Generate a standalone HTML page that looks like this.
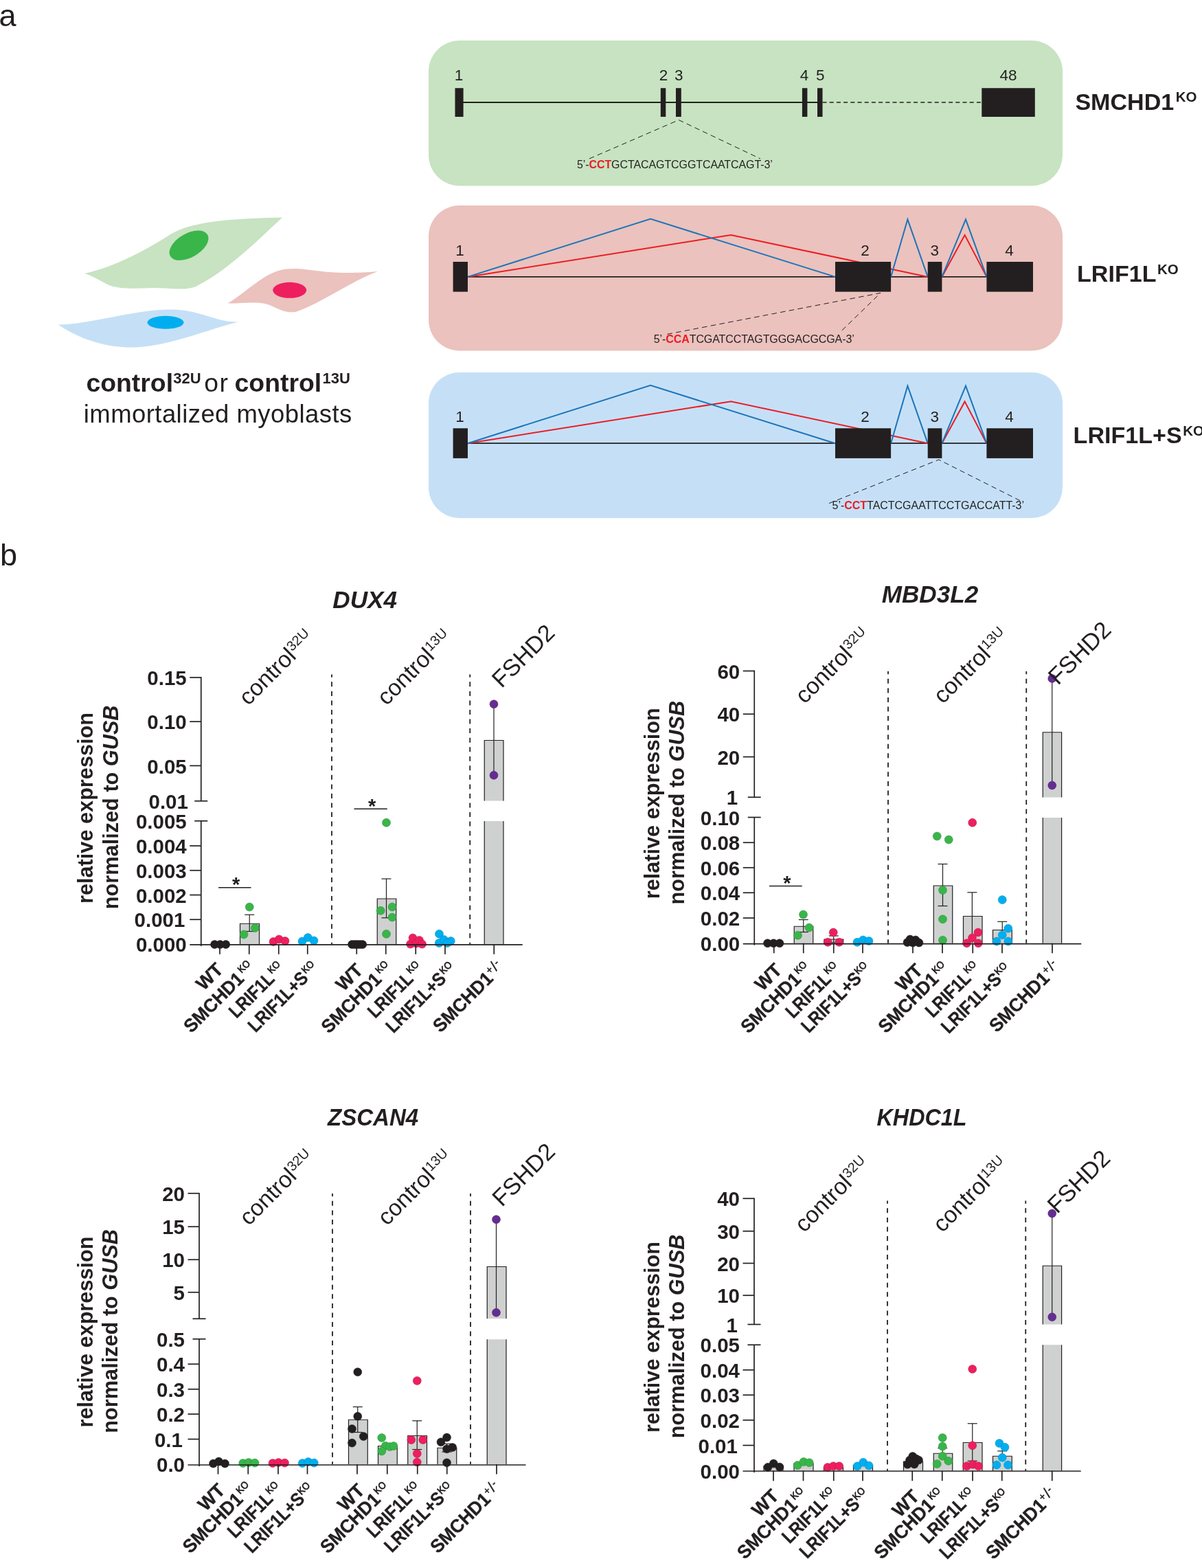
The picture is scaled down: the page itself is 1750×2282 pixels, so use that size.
<!DOCTYPE html>
<html lang="en"><head><meta charset="utf-8"><title>Figure</title>
<style>html,body{margin:0;padding:0;background:#fff}body{width:1750px;height:2282px;overflow:hidden}svg{display:block}svg text{font-family:"Liberation Sans",Arial,Helvetica,sans-serif}</style>
</head><body>
<svg width="1750" height="2282" viewBox="0 0 1750 2282">
<rect width="1750" height="2282" fill="#ffffff"/>
<g id="panel-a">
<text x="-1.5" y="37.5" font-size="45" font-weight="normal" font-style="normal" text-anchor="start" fill="#231f20" >a</text>
<path d="M123,398 C170,388 215,362 250,340 C285,320 350,318 411,316.5 C375,350 330,395 285,417 C268,424 245,418.5 222,419 C200,420 175,421 160,415.5 C147,410 135,401 123,398 Z" fill="#c7e3c1"/>
<ellipse cx="275" cy="357.2" rx="31.3" ry="17.3" transform="rotate(-30 275 357.2)" fill="#39b54a"/>
<path d="M331.5,441.5 C360,425 385,395 417,391.5 C450,388 470,402 550,395 C510,410 470,440 432,453.5 C410,458 400,443 380,441 C360,439.5 345,442 331.5,441.5 Z" fill="#ebc2bd"/>
<ellipse cx="421.7" cy="422.3" rx="24.5" ry="11.5" fill="#ed1f5f"/>
<path d="M85,472.5 C130,472 190,452 243,450.5 C290,449 315,470 347,468.5 C300,480 250,503 197,505.5 C150,507 110,490 85,472.5 Z" fill="#c5e0f6"/>
<ellipse cx="241" cy="469.3" rx="26.5" ry="9.5" fill="#00aeef"/>
<text y="570" font-size="37.4" fill="#231f20"><tspan x="125.4" font-weight="bold">control</tspan><tspan x="252.3" font-weight="bold" font-size="22" dy="-12.5">32U</tspan><tspan x="297.2" dy="12.5" font-size="37.4" letter-spacing="1.6">or</tspan><tspan x="341.5" font-weight="bold">control</tspan><tspan x="469.5" font-weight="bold" font-size="22" dy="-12.5">13U</tspan></text>
<text x="121.75" y="615" font-size="36.5" font-weight="normal" font-style="normal" text-anchor="start" fill="#231f20" textLength="390.5" lengthAdjust="spacing">immortalized myoblasts</text>
<rect x="624" y="59" width="923" height="211.5" fill="#c7e3c1" rx="45" ry="45"/>
<rect x="624" y="299" width="923" height="211.5" fill="#ebc2bd" rx="45" ry="45"/>
<rect x="624" y="542" width="923" height="212" fill="#c5e0f6" rx="45" ry="45"/>
<line x1="670" y1="149" x2="1194" y2="149" stroke="#231f20" stroke-width="1.8" />
<line x1="1197.5" y1="149" x2="1430" y2="149" stroke="#231f20" stroke-width="1.6" stroke-dasharray="6 4.2"/>
<rect x="662.5" y="128.2" width="12.1" height="41.8" fill="#231f20" />
<rect x="961.8" y="128.2" width="7.5" height="41.8" fill="#231f20" />
<rect x="984" y="128.2" width="7.8" height="41.8" fill="#231f20" />
<rect x="1167.9" y="128.2" width="7.5" height="41.8" fill="#231f20" />
<rect x="1190" y="128.2" width="7.5" height="41.8" fill="#231f20" />
<rect x="1429.3" y="128.2" width="77.5" height="41.8" fill="#231f20" />
<text x="667.9" y="116.8" font-size="22.5" font-weight="normal" font-style="normal" text-anchor="middle" fill="#231f20" >1</text>
<text x="966" y="116.8" font-size="22.5" font-weight="normal" font-style="normal" text-anchor="middle" fill="#231f20" >2</text>
<text x="988.2" y="116.8" font-size="22.5" font-weight="normal" font-style="normal" text-anchor="middle" fill="#231f20" >3</text>
<text x="1171" y="116.8" font-size="22.5" font-weight="normal" font-style="normal" text-anchor="middle" fill="#231f20" >4</text>
<text x="1194.3" y="116.8" font-size="22.5" font-weight="normal" font-style="normal" text-anchor="middle" fill="#231f20" >5</text>
<text x="1467.9" y="116.8" font-size="22.5" font-weight="normal" font-style="normal" text-anchor="middle" fill="#231f20" >48</text>
<polyline points="857.9,231 988.2,174.6 1107,231" fill="none" stroke="#231f20" stroke-width="1" stroke-dasharray="7.6 5.3"/>
<text x="840" y="245" font-size="16" fill="#231f20" textLength="284.8" lengthAdjust="spacing">5’-<tspan font-weight="bold" fill="#ed1c24">CCT</tspan>GCTACAGTCGGTCAATCAGT-3’</text>
<text x="1565.4" y="159.6" font-size="34.1" font-weight="bold" fill="#231f20">SMCHD1<tspan font-size="20.5" dy="-11.5" dx="2.5">KO</tspan></text>
<line x1="681" y1="402.9" x2="1436.4" y2="402.9" stroke="#231f20" stroke-width="1.8" />
<polyline points="681,402.9 1064.3,341.9 1350.7,402.9" fill="none" stroke="#ed1c24" stroke-width="2" stroke-linejoin="miter"/>
<polyline points="1371.4,402.9 1404.6,342.1 1436.4,402.9" fill="none" stroke="#ed1c24" stroke-width="2"/>
<polyline points="681,402.9 947.1,318.6 1216,402.9" fill="none" stroke="#1c75bc" stroke-width="2"/>
<polyline points="1297.1,402.9 1321.4,319.3 1350.7,402.9" fill="none" stroke="#1c75bc" stroke-width="2"/>
<polyline points="1371.4,402.9 1406,319.3 1436.4,402.9" fill="none" stroke="#1c75bc" stroke-width="2"/>
<rect x="659.6" y="381" width="21.4" height="43.6" fill="#231f20" />
<rect x="1216" y="381" width="81.1" height="43.6" fill="#231f20" />
<rect x="1350.7" y="381" width="20.7" height="43.6" fill="#231f20" />
<rect x="1436.4" y="381" width="67.6" height="43.6" fill="#231f20" />
<text x="669.6" y="372" font-size="22.5" font-weight="normal" font-style="normal" text-anchor="middle" fill="#231f20" >1</text>
<text x="1259.6" y="372" font-size="22.5" font-weight="normal" font-style="normal" text-anchor="middle" fill="#231f20" >2</text>
<text x="1360.7" y="372" font-size="22.5" font-weight="normal" font-style="normal" text-anchor="middle" fill="#231f20" >3</text>
<text x="1469.6" y="372" font-size="22.5" font-weight="normal" font-style="normal" text-anchor="middle" fill="#231f20" >4</text>
<polyline points="971.4,486.4 1282,426.4 1223,483.6" fill="none" stroke="#231f20" stroke-width="1" stroke-dasharray="7.6 5.3"/>
<text x="951.8" y="498.6" font-size="16" fill="#231f20" textLength="292" lengthAdjust="spacing">5’-<tspan font-weight="bold" fill="#ed1c24">CCA</tspan>TCGATCCTAGTGGGACGCGA-3’</text>
<text x="1568" y="410.4" font-size="34.1" font-weight="bold" fill="#231f20">LRIF1L<tspan font-size="20.5" dy="-11.5" dx="1.5">KO</tspan></text>
<line x1="681" y1="645.2" x2="1436.4" y2="645.2" stroke="#231f20" stroke-width="1.8" />
<polyline points="681,645.2 1064.3,584.2 1350.7,645.2" fill="none" stroke="#ed1c24" stroke-width="2" stroke-linejoin="miter"/>
<polyline points="1371.4,645.2 1404.6,584.4 1436.4,645.2" fill="none" stroke="#ed1c24" stroke-width="2"/>
<polyline points="681,645.2 947.1,560.9 1216,645.2" fill="none" stroke="#1c75bc" stroke-width="2"/>
<polyline points="1297.1,645.2 1321.4,561.6 1350.7,645.2" fill="none" stroke="#1c75bc" stroke-width="2"/>
<polyline points="1371.4,645.2 1406,561.6 1436.4,645.2" fill="none" stroke="#1c75bc" stroke-width="2"/>
<rect x="659.6" y="623.3" width="21.4" height="43.6" fill="#231f20" />
<rect x="1216" y="623.3" width="81.1" height="43.6" fill="#231f20" />
<rect x="1350.7" y="623.3" width="20.7" height="43.6" fill="#231f20" />
<rect x="1436.4" y="623.3" width="67.6" height="43.6" fill="#231f20" />
<text x="669.6" y="614.3" font-size="22.5" font-weight="normal" font-style="normal" text-anchor="middle" fill="#231f20" >1</text>
<text x="1259.6" y="614.3" font-size="22.5" font-weight="normal" font-style="normal" text-anchor="middle" fill="#231f20" >2</text>
<text x="1360.7" y="614.3" font-size="22.5" font-weight="normal" font-style="normal" text-anchor="middle" fill="#231f20" >3</text>
<text x="1469.6" y="614.3" font-size="22.5" font-weight="normal" font-style="normal" text-anchor="middle" fill="#231f20" >4</text>
<polyline points="1207,732.5 1366.8,669 1489.3,730.7" fill="none" stroke="#231f20" stroke-width="1" stroke-dasharray="7.6 5.3"/>
<text x="1211.5" y="740.7" font-size="16" fill="#231f20" textLength="279.5" lengthAdjust="spacing">5’-<tspan font-weight="bold" fill="#ed1c24">CCT</tspan>TACTCGAATTCCTGACCATT-3’</text>
<text x="1562.6" y="645" font-size="34.1" font-weight="bold" fill="#231f20">LRIF1L+S<tspan font-size="20.5" dy="-11.5" dx="1.5">KO</tspan></text>
</g>
<g id="panel-b">
<text x="0" y="823" font-size="45" font-weight="normal" font-style="normal" text-anchor="start" fill="#231f20" >b</text>
<g id="chart-DUX4">
<text x="484.25" y="885" font-size="35.6" font-weight="bold" font-style="italic" text-anchor="start" fill="#231f20" textLength="93.75" lengthAdjust="spacingAndGlyphs">DUX4</text>
<line x1="483" y1="981.6" x2="483" y2="1374.25" stroke="#231f20" stroke-width="1.8" stroke-dasharray="7 6.55" stroke-dashoffset="2.8"/>
<line x1="684.25" y1="981.6" x2="684.25" y2="1374.25" stroke="#231f20" stroke-width="1.8" stroke-dasharray="7 6.55" stroke-dashoffset="2.8"/>
<path d="M349.5,1374.25 V1344.25 H377.5 V1374.25" fill="#cfd1d0" stroke="#231f20" stroke-width="1.2"/>
<path d="M549.25,1374.25 V1308 H576.75 V1374.25" fill="#cfd1d0" stroke="#231f20" stroke-width="1.2"/>
<path d="M705.25,1165.5 V1077.5 H733 V1165.5" fill="#cfd1d0" stroke="#231f20" stroke-width="1.2"/>
<rect x="705.25" y="1195" width="27.75" height="179.25" fill="#cfd1d0" />
<line x1="705.25" y1="1195" x2="705.25" y2="1374.25" stroke="#231f20" stroke-width="1.2" />
<line x1="733" y1="1195" x2="733" y2="1374.25" stroke="#231f20" stroke-width="1.2" />
<line x1="363.25" y1="1331.25" x2="363.25" y2="1355.5" stroke="#231f20" stroke-width="1.2" />
<line x1="356.25" y1="1331.25" x2="370.25" y2="1331.25" stroke="#231f20" stroke-width="1.2" />
<line x1="356.25" y1="1355.5" x2="370.25" y2="1355.5" stroke="#231f20" stroke-width="1.2" />
<line x1="562.5" y1="1279" x2="562.5" y2="1335.75" stroke="#231f20" stroke-width="1.2" />
<line x1="555.5" y1="1279" x2="569.5" y2="1279" stroke="#231f20" stroke-width="1.2" />
<line x1="555.5" y1="1335.75" x2="569.5" y2="1335.75" stroke="#231f20" stroke-width="1.2" />
<line x1="719" y1="1024.75" x2="719" y2="1128.25" stroke="#231f20" stroke-width="1.2" />
<circle cx="312.5" cy="1374.5" r="6.0" fill="#231f20" stroke="#231f20" stroke-width="0.5"/>
<circle cx="320.5" cy="1374.5" r="6.0" fill="#231f20" stroke="#231f20" stroke-width="0.5"/>
<circle cx="328.75" cy="1374.5" r="6.0" fill="#231f20" stroke="#231f20" stroke-width="0.5"/>
<circle cx="363.25" cy="1320" r="6.0" fill="#39b54a" stroke="#2a8c3a" stroke-width="0.5"/>
<circle cx="371.25" cy="1350.5" r="6.0" fill="#39b54a" stroke="#2a8c3a" stroke-width="0.5"/>
<circle cx="355" cy="1360" r="6.0" fill="#39b54a" stroke="#2a8c3a" stroke-width="0.5"/>
<circle cx="398" cy="1370.5" r="6.0" fill="#ed1f5f" stroke="#b8174a" stroke-width="0.5"/>
<circle cx="406.25" cy="1367" r="6.0" fill="#ed1f5f" stroke="#b8174a" stroke-width="0.5"/>
<circle cx="415" cy="1369.5" r="6.0" fill="#ed1f5f" stroke="#b8174a" stroke-width="0.5"/>
<circle cx="440" cy="1370" r="6.0" fill="#00aeef" stroke="#0089bd" stroke-width="0.5"/>
<circle cx="448.25" cy="1364.5" r="6.0" fill="#00aeef" stroke="#0089bd" stroke-width="0.5"/>
<circle cx="457" cy="1369" r="6.0" fill="#00aeef" stroke="#0089bd" stroke-width="0.5"/>
<circle cx="512.5" cy="1374.5" r="6.0" fill="#231f20" stroke="#231f20" stroke-width="0.5"/>
<circle cx="516.5" cy="1374.5" r="6.0" fill="#231f20" stroke="#231f20" stroke-width="0.5"/>
<circle cx="520" cy="1374.5" r="6.0" fill="#231f20" stroke="#231f20" stroke-width="0.5"/>
<circle cx="524" cy="1374.5" r="6.0" fill="#231f20" stroke="#231f20" stroke-width="0.5"/>
<circle cx="527.8" cy="1374.5" r="6.0" fill="#231f20" stroke="#231f20" stroke-width="0.5"/>
<circle cx="562.5" cy="1197.25" r="6.0" fill="#39b54a" stroke="#2a8c3a" stroke-width="0.5"/>
<circle cx="571" cy="1320" r="6.0" fill="#39b54a" stroke="#2a8c3a" stroke-width="0.5"/>
<circle cx="554.25" cy="1325.25" r="6.0" fill="#39b54a" stroke="#2a8c3a" stroke-width="0.5"/>
<circle cx="571" cy="1335" r="6.0" fill="#39b54a" stroke="#2a8c3a" stroke-width="0.5"/>
<circle cx="562.5" cy="1359.25" r="6.0" fill="#39b54a" stroke="#2a8c3a" stroke-width="0.5"/>
<circle cx="597.5" cy="1374" r="6.0" fill="#ed1f5f" stroke="#b8174a" stroke-width="0.5"/>
<circle cx="601" cy="1365" r="6.0" fill="#ed1f5f" stroke="#b8174a" stroke-width="0.5"/>
<circle cx="606" cy="1373" r="6.0" fill="#ed1f5f" stroke="#b8174a" stroke-width="0.5"/>
<circle cx="610.5" cy="1368.5" r="6.0" fill="#ed1f5f" stroke="#b8174a" stroke-width="0.5"/>
<circle cx="614.5" cy="1374" r="6.0" fill="#ed1f5f" stroke="#b8174a" stroke-width="0.5"/>
<circle cx="639.5" cy="1359.25" r="6.0" fill="#00aeef" stroke="#0089bd" stroke-width="0.5"/>
<circle cx="639.25" cy="1372.5" r="6.0" fill="#00aeef" stroke="#0089bd" stroke-width="0.5"/>
<circle cx="646.25" cy="1367.5" r="6.0" fill="#00aeef" stroke="#0089bd" stroke-width="0.5"/>
<circle cx="656.25" cy="1369.5" r="6.0" fill="#00aeef" stroke="#0089bd" stroke-width="0.5"/>
<circle cx="651.25" cy="1372.5" r="6.0" fill="#00aeef" stroke="#0089bd" stroke-width="0.5"/>
<circle cx="719" cy="1024.75" r="6.0" fill="#662d91" stroke="#4d2170" stroke-width="0.5"/>
<circle cx="719" cy="1128.25" r="6.0" fill="#662d91" stroke="#4d2170" stroke-width="0.5"/>
<line x1="292.75" y1="985.15" x2="292.75" y2="1165.75" stroke="#231f20" stroke-width="1.7" />
<line x1="292.75" y1="1194.75" x2="292.75" y2="1376.95" stroke="#231f20" stroke-width="1.7" />
<line x1="283.25" y1="1165.75" x2="302.25" y2="1165.75" stroke="#231f20" stroke-width="1.7" />
<line x1="283.25" y1="1194.75" x2="302.25" y2="1194.75" stroke="#231f20" stroke-width="1.7" />
<line x1="276.25" y1="1374.95" x2="760.75" y2="1374.95" stroke="#231f20" stroke-width="1.7" />
<line x1="276.25" y1="986" x2="292.75" y2="986" stroke="#231f20" stroke-width="1.7" />
<text x="271.75" y="997.1" font-size="29.5" font-weight="bold" font-style="normal" text-anchor="end" fill="#231f20" >0.15</text>
<line x1="276.25" y1="1050.2" x2="292.75" y2="1050.2" stroke="#231f20" stroke-width="1.7" />
<text x="271.75" y="1061.3" font-size="29.5" font-weight="bold" font-style="normal" text-anchor="end" fill="#231f20" >0.10</text>
<line x1="276.25" y1="1114.4" x2="292.75" y2="1114.4" stroke="#231f20" stroke-width="1.7" />
<text x="271.75" y="1125.5" font-size="29.5" font-weight="bold" font-style="normal" text-anchor="end" fill="#231f20" >0.05</text>
<text x="273.95" y="1176.85" font-size="29.5" font-weight="bold" font-style="normal" text-anchor="end" fill="#231f20" >0.01</text>
<text x="271.75" y="1205.85" font-size="29.5" font-weight="bold" font-style="normal" text-anchor="end" fill="#231f20" >0.005</text>
<line x1="276.25" y1="1231" x2="292.75" y2="1231" stroke="#231f20" stroke-width="1.7" />
<text x="271.75" y="1242.1" font-size="29.5" font-weight="bold" font-style="normal" text-anchor="end" fill="#231f20" >0.004</text>
<line x1="276.25" y1="1266.75" x2="292.75" y2="1266.75" stroke="#231f20" stroke-width="1.7" />
<text x="271.75" y="1277.85" font-size="29.5" font-weight="bold" font-style="normal" text-anchor="end" fill="#231f20" >0.003</text>
<line x1="276.25" y1="1302.5" x2="292.75" y2="1302.5" stroke="#231f20" stroke-width="1.7" />
<text x="271.75" y="1313.6" font-size="29.5" font-weight="bold" font-style="normal" text-anchor="end" fill="#231f20" >0.002</text>
<line x1="276.25" y1="1338.25" x2="292.75" y2="1338.25" stroke="#231f20" stroke-width="1.7" />
<text x="269.45" y="1349.35" font-size="29.5" font-weight="bold" font-style="normal" text-anchor="end" fill="#231f20" >0.001</text>
<text x="271.75" y="1385.35" font-size="29.5" font-weight="bold" font-style="normal" text-anchor="end" fill="#231f20" >0.000</text>
<line x1="320" y1="1374.25" x2="320" y2="1388.75" stroke="#231f20" stroke-width="1.7" />
<line x1="362.75" y1="1374.25" x2="362.75" y2="1388.75" stroke="#231f20" stroke-width="1.7" />
<line x1="405.75" y1="1374.25" x2="405.75" y2="1388.75" stroke="#231f20" stroke-width="1.7" />
<line x1="447.75" y1="1374.25" x2="447.75" y2="1388.75" stroke="#231f20" stroke-width="1.7" />
<line x1="519.25" y1="1374.25" x2="519.25" y2="1388.75" stroke="#231f20" stroke-width="1.7" />
<line x1="561.75" y1="1374.25" x2="561.75" y2="1388.75" stroke="#231f20" stroke-width="1.7" />
<line x1="605.25" y1="1374.25" x2="605.25" y2="1388.75" stroke="#231f20" stroke-width="1.7" />
<line x1="648" y1="1374.25" x2="648" y2="1388.75" stroke="#231f20" stroke-width="1.7" />
<line x1="719.25" y1="1374.25" x2="719.25" y2="1388.75" stroke="#231f20" stroke-width="1.7" />
<line x1="318" y1="1291.75" x2="365.5" y2="1291.75" stroke="#231f20" stroke-width="1.3" />
<text x="343.75" y="1297.35" font-size="29" font-weight="bold" font-style="normal" text-anchor="middle" fill="#231f20" >*</text>
<line x1="515.5" y1="1177.25" x2="563.75" y2="1177.25" stroke="#231f20" stroke-width="1.3" />
<text x="541.62" y="1182.85" font-size="29" font-weight="bold" font-style="normal" text-anchor="middle" fill="#231f20" >*</text>
<text transform="translate(134.5 1176) rotate(-90)" font-size="30.7" font-weight="bold" text-anchor="middle" fill="#231f20">relative expression</text>
<text transform="translate(172 1174.8) rotate(-90)" font-size="30.7" font-weight="bold" text-anchor="middle" fill="#231f20">normalized to <tspan font-style="italic">GUSB</tspan></text>
<text transform="translate(361.4 1027.9) rotate(-45)" font-size="33.6" fill="#231f20">control<tspan font-size="20" dy="-11" dx="0.5">32U</tspan></text>
<text transform="translate(562.65 1027.9) rotate(-45)" font-size="33.6" fill="#231f20">control<tspan font-size="20" dy="-11" dx="0.5">13U</tspan></text>
<text transform="translate(730.2 1002.5) rotate(-45)" font-size="34.3" fill="#231f20">FSHD2</text>
<g transform="translate(326.6 1412.75) rotate(-45)">
<text transform="scale(1.002 1)" font-size="27.3" font-weight="bold" text-anchor="end" fill="#231f20" stroke="#231f20" stroke-width="0.35" stroke-linejoin="round">WT</text>
</g>
<g transform="translate(356.75 1426.25) rotate(-45)">
<text transform="scale(0.961 1)" font-size="27.3" font-weight="bold" text-anchor="end" fill="#231f20" stroke="#231f20" stroke-width="0.35" stroke-linejoin="round">SMCHD1</text>
<text transform="translate(3.2 -10.2) scale(0.92 1)" font-size="14.4" stroke="#231f20" stroke-width="0.8" stroke-linejoin="round" fill="#231f20">KO</text>
</g>
<g transform="translate(401.15 1426.25) rotate(-45)">
<text transform="scale(0.869 1)" font-size="27.3" font-weight="bold" text-anchor="end" fill="#231f20" stroke="#231f20" stroke-width="0.35" stroke-linejoin="round">LRIF1L</text>
<text transform="translate(1.9 -10.2) scale(0.92 1)" font-size="14.4" stroke="#231f20" stroke-width="0.8" stroke-linejoin="round" fill="#231f20">KO</text>
</g>
<g transform="translate(450.35 1425.25) rotate(-45)">
<text transform="scale(0.876 1)" font-size="27.3" font-weight="bold" text-anchor="end" fill="#231f20" stroke="#231f20" stroke-width="0.35" stroke-linejoin="round">LRIF1L+S</text>
<text transform="translate(1.6 -9.5) scale(0.92 1)" font-size="14.4" stroke="#231f20" stroke-width="0.8" stroke-linejoin="round" fill="#231f20">KO</text>
</g>
<g transform="translate(530.15 1413.75) rotate(-45)">
<text transform="scale(1.002 1)" font-size="27.3" font-weight="bold" text-anchor="end" fill="#231f20" stroke="#231f20" stroke-width="0.35" stroke-linejoin="round">WT</text>
</g>
<g transform="translate(557.15 1427.05) rotate(-45)">
<text transform="scale(0.961 1)" font-size="27.3" font-weight="bold" text-anchor="end" fill="#231f20" stroke="#231f20" stroke-width="0.35" stroke-linejoin="round">SMCHD1</text>
<text transform="translate(3.2 -10.2) scale(0.92 1)" font-size="14.4" stroke="#231f20" stroke-width="0.8" stroke-linejoin="round" fill="#231f20">KO</text>
</g>
<g transform="translate(603.15 1426.25) rotate(-45)">
<text transform="scale(0.869 1)" font-size="27.3" font-weight="bold" text-anchor="end" fill="#231f20" stroke="#231f20" stroke-width="0.35" stroke-linejoin="round">LRIF1L</text>
<text transform="translate(1.9 -10.2) scale(0.92 1)" font-size="14.4" stroke="#231f20" stroke-width="0.8" stroke-linejoin="round" fill="#231f20">KO</text>
</g>
<g transform="translate(651.1 1426.25) rotate(-45)">
<text transform="scale(0.876 1)" font-size="27.3" font-weight="bold" text-anchor="end" fill="#231f20" stroke="#231f20" stroke-width="0.35" stroke-linejoin="round">LRIF1L+S</text>
<text transform="translate(1.6 -9.5) scale(0.92 1)" font-size="14.4" stroke="#231f20" stroke-width="0.8" stroke-linejoin="round" fill="#231f20">KO</text>
</g>
<g transform="translate(719.45 1425.75) rotate(-45)">
<text transform="scale(0.961 1)" font-size="27.3" font-weight="bold" text-anchor="end" fill="#231f20" stroke="#231f20" stroke-width="0.35" stroke-linejoin="round">SMCHD1</text>
<text transform="translate(1 -9.6) scale(0.9 1)" font-size="16" stroke="#231f20" stroke-width="0.5" fill="#231f20">+<tspan font-size="21.5" dy="3" dx="1.6">/</tspan><tspan dy="-4" dx="1.2">-</tspan></text>
</g>
</g>
<g id="chart-MBD3L2">
<text x="1283.75" y="876.5" font-size="35.3" font-weight="bold" font-style="italic" text-anchor="start" fill="#231f20" textLength="140.5" lengthAdjust="spacingAndGlyphs">MBD3L2</text>
<line x1="1293" y1="977.1" x2="1293" y2="1372.75" stroke="#231f20" stroke-width="1.8" stroke-dasharray="7 6.55" stroke-dashoffset="2.8"/>
<line x1="1494.25" y1="977.1" x2="1494.25" y2="1372.75" stroke="#231f20" stroke-width="1.8" stroke-dasharray="7 6.55" stroke-dashoffset="2.8"/>
<path d="M1156.25,1372.75 V1348.25 H1183.75 V1372.75" fill="#cfd1d0" stroke="#231f20" stroke-width="1.2"/>
<path d="M1200,1372.75 V1367 H1227.75 V1372.75" fill="#cfd1d0" stroke="#231f20" stroke-width="1.2"/>
<path d="M1359.25,1372.75 V1289 H1386.75 V1372.75" fill="#cfd1d0" stroke="#231f20" stroke-width="1.2"/>
<path d="M1402.5,1372.75 V1333.5 H1430 V1372.75" fill="#cfd1d0" stroke="#231f20" stroke-width="1.2"/>
<path d="M1445.5,1372.75 V1353.5 H1473.25 V1372.75" fill="#cfd1d0" stroke="#231f20" stroke-width="1.2"/>
<path d="M1518.25,1160.4 V1065.75 H1545.6 V1160.4" fill="#cfd1d0" stroke="#231f20" stroke-width="1.2"/>
<rect x="1518.25" y="1190" width="27.35" height="182.75" fill="#cfd1d0" />
<line x1="1518.25" y1="1190" x2="1518.25" y2="1372.75" stroke="#231f20" stroke-width="1.2" />
<line x1="1545.6" y1="1190" x2="1545.6" y2="1372.75" stroke="#231f20" stroke-width="1.2" />
<line x1="1169.75" y1="1338.5" x2="1169.75" y2="1356.5" stroke="#231f20" stroke-width="1.2" />
<line x1="1162.75" y1="1338.5" x2="1176.75" y2="1338.5" stroke="#231f20" stroke-width="1.2" />
<line x1="1162.75" y1="1356.5" x2="1176.75" y2="1356.5" stroke="#231f20" stroke-width="1.2" />
<line x1="1213.75" y1="1362" x2="1213.75" y2="1372" stroke="#231f20" stroke-width="1.2" />
<line x1="1206.75" y1="1362" x2="1220.75" y2="1362" stroke="#231f20" stroke-width="1.2" />
<line x1="1206.75" y1="1372" x2="1220.75" y2="1372" stroke="#231f20" stroke-width="1.2" />
<line x1="1372.5" y1="1257.5" x2="1372.5" y2="1318.5" stroke="#231f20" stroke-width="1.2" />
<line x1="1365.5" y1="1257.5" x2="1379.5" y2="1257.5" stroke="#231f20" stroke-width="1.2" />
<line x1="1365.5" y1="1318.5" x2="1379.5" y2="1318.5" stroke="#231f20" stroke-width="1.2" />
<line x1="1415.4" y1="1298.75" x2="1415.4" y2="1372" stroke="#231f20" stroke-width="1.2" />
<line x1="1408.4" y1="1298.75" x2="1422.4" y2="1298.75" stroke="#231f20" stroke-width="1.2" />
<line x1="1459.25" y1="1341.25" x2="1459.25" y2="1365" stroke="#231f20" stroke-width="1.2" />
<line x1="1452.25" y1="1341.25" x2="1466.25" y2="1341.25" stroke="#231f20" stroke-width="1.2" />
<line x1="1531.75" y1="987.5" x2="1531.75" y2="1143" stroke="#231f20" stroke-width="1.2" />
<circle cx="1117.5" cy="1372.75" r="6.0" fill="#231f20" stroke="#231f20" stroke-width="0.5"/>
<circle cx="1126.25" cy="1372.75" r="6.0" fill="#231f20" stroke="#231f20" stroke-width="0.5"/>
<circle cx="1135" cy="1372.75" r="6.0" fill="#231f20" stroke="#231f20" stroke-width="0.5"/>
<circle cx="1169.5" cy="1331" r="6.0" fill="#39b54a" stroke="#2a8c3a" stroke-width="0.5"/>
<circle cx="1178" cy="1350" r="6.0" fill="#39b54a" stroke="#2a8c3a" stroke-width="0.5"/>
<circle cx="1161.5" cy="1361.25" r="6.0" fill="#39b54a" stroke="#2a8c3a" stroke-width="0.5"/>
<circle cx="1213.25" cy="1357" r="6.0" fill="#ed1f5f" stroke="#b8174a" stroke-width="0.5"/>
<circle cx="1205.25" cy="1371.25" r="6.0" fill="#ed1f5f" stroke="#b8174a" stroke-width="0.5"/>
<circle cx="1221.75" cy="1371.25" r="6.0" fill="#ed1f5f" stroke="#b8174a" stroke-width="0.5"/>
<circle cx="1248" cy="1371.25" r="6.0" fill="#00aeef" stroke="#0089bd" stroke-width="0.5"/>
<circle cx="1256.5" cy="1368" r="6.0" fill="#00aeef" stroke="#0089bd" stroke-width="0.5"/>
<circle cx="1265" cy="1369.5" r="6.0" fill="#00aeef" stroke="#0089bd" stroke-width="0.5"/>
<circle cx="1321" cy="1371.5" r="6.0" fill="#231f20" stroke="#231f20" stroke-width="0.5"/>
<circle cx="1325" cy="1367" r="6.0" fill="#231f20" stroke="#231f20" stroke-width="0.5"/>
<circle cx="1333" cy="1368" r="6.0" fill="#231f20" stroke="#231f20" stroke-width="0.5"/>
<circle cx="1338" cy="1372" r="6.0" fill="#231f20" stroke="#231f20" stroke-width="0.5"/>
<circle cx="1329" cy="1372" r="6.0" fill="#231f20" stroke="#231f20" stroke-width="0.5"/>
<circle cx="1364.25" cy="1217" r="6.0" fill="#39b54a" stroke="#2a8c3a" stroke-width="0.5"/>
<circle cx="1381.25" cy="1222" r="6.0" fill="#39b54a" stroke="#2a8c3a" stroke-width="0.5"/>
<circle cx="1372.5" cy="1295.5" r="6.0" fill="#39b54a" stroke="#2a8c3a" stroke-width="0.5"/>
<circle cx="1372.5" cy="1337.75" r="6.0" fill="#39b54a" stroke="#2a8c3a" stroke-width="0.5"/>
<circle cx="1372.5" cy="1368.25" r="6.0" fill="#39b54a" stroke="#2a8c3a" stroke-width="0.5"/>
<circle cx="1415.75" cy="1197.25" r="6.0" fill="#ed1f5f" stroke="#b8174a" stroke-width="0.5"/>
<circle cx="1424" cy="1357" r="6.0" fill="#ed1f5f" stroke="#b8174a" stroke-width="0.5"/>
<circle cx="1415.5" cy="1365" r="6.0" fill="#ed1f5f" stroke="#b8174a" stroke-width="0.5"/>
<circle cx="1407.5" cy="1372.75" r="6.0" fill="#ed1f5f" stroke="#b8174a" stroke-width="0.5"/>
<circle cx="1424.25" cy="1372.75" r="6.0" fill="#ed1f5f" stroke="#b8174a" stroke-width="0.5"/>
<circle cx="1459.25" cy="1309.5" r="6.0" fill="#00aeef" stroke="#0089bd" stroke-width="0.5"/>
<circle cx="1467.75" cy="1351.25" r="6.0" fill="#00aeef" stroke="#0089bd" stroke-width="0.5"/>
<circle cx="1459.25" cy="1360.75" r="6.0" fill="#00aeef" stroke="#0089bd" stroke-width="0.5"/>
<circle cx="1451" cy="1370" r="6.0" fill="#00aeef" stroke="#0089bd" stroke-width="0.5"/>
<circle cx="1467.75" cy="1370" r="6.0" fill="#00aeef" stroke="#0089bd" stroke-width="0.5"/>
<circle cx="1531.75" cy="987.5" r="6.0" fill="#662d91" stroke="#4d2170" stroke-width="0.5"/>
<circle cx="1531.75" cy="1143" r="6.0" fill="#662d91" stroke="#4d2170" stroke-width="0.5"/>
<line x1="1098.25" y1="975.65" x2="1098.25" y2="1160.25" stroke="#231f20" stroke-width="1.7" />
<line x1="1098.25" y1="1189.5" x2="1098.25" y2="1375.55" stroke="#231f20" stroke-width="1.7" />
<line x1="1088.75" y1="1160.25" x2="1107.75" y2="1160.25" stroke="#231f20" stroke-width="1.7" />
<line x1="1088.75" y1="1189.5" x2="1107.75" y2="1189.5" stroke="#231f20" stroke-width="1.7" />
<line x1="1081.75" y1="1373.55" x2="1574.25" y2="1373.55" stroke="#231f20" stroke-width="1.7" />
<line x1="1081.75" y1="976.5" x2="1098.25" y2="976.5" stroke="#231f20" stroke-width="1.7" />
<text x="1077.25" y="987.6" font-size="29.5" font-weight="bold" font-style="normal" text-anchor="end" fill="#231f20" >60</text>
<line x1="1081.75" y1="1039.25" x2="1098.25" y2="1039.25" stroke="#231f20" stroke-width="1.7" />
<text x="1077.25" y="1050.35" font-size="29.5" font-weight="bold" font-style="normal" text-anchor="end" fill="#231f20" >40</text>
<line x1="1081.75" y1="1101.5" x2="1098.25" y2="1101.5" stroke="#231f20" stroke-width="1.7" />
<text x="1077.25" y="1112.6" font-size="29.5" font-weight="bold" font-style="normal" text-anchor="end" fill="#231f20" >20</text>
<text x="1074.15" y="1171.35" font-size="29.5" font-weight="bold" font-style="normal" text-anchor="end" fill="#231f20" >1</text>
<text x="1077.25" y="1200.6" font-size="29.5" font-weight="bold" font-style="normal" text-anchor="end" fill="#231f20" >0.10</text>
<line x1="1081.75" y1="1226.25" x2="1098.25" y2="1226.25" stroke="#231f20" stroke-width="1.7" />
<text x="1077.25" y="1237.35" font-size="29.5" font-weight="bold" font-style="normal" text-anchor="end" fill="#231f20" >0.08</text>
<line x1="1081.75" y1="1262.75" x2="1098.25" y2="1262.75" stroke="#231f20" stroke-width="1.7" />
<text x="1077.25" y="1273.85" font-size="29.5" font-weight="bold" font-style="normal" text-anchor="end" fill="#231f20" >0.06</text>
<line x1="1081.75" y1="1299.25" x2="1098.25" y2="1299.25" stroke="#231f20" stroke-width="1.7" />
<text x="1077.25" y="1310.35" font-size="29.5" font-weight="bold" font-style="normal" text-anchor="end" fill="#231f20" >0.04</text>
<line x1="1081.75" y1="1336" x2="1098.25" y2="1336" stroke="#231f20" stroke-width="1.7" />
<text x="1077.25" y="1347.1" font-size="29.5" font-weight="bold" font-style="normal" text-anchor="end" fill="#231f20" >0.02</text>
<text x="1077.25" y="1383.85" font-size="29.5" font-weight="bold" font-style="normal" text-anchor="end" fill="#231f20" >0.00</text>
<line x1="1126.75" y1="1372.75" x2="1126.75" y2="1387.25" stroke="#231f20" stroke-width="1.7" />
<line x1="1169.75" y1="1372.75" x2="1169.75" y2="1387.25" stroke="#231f20" stroke-width="1.7" />
<line x1="1213.75" y1="1372.75" x2="1213.75" y2="1387.25" stroke="#231f20" stroke-width="1.7" />
<line x1="1256" y1="1372.75" x2="1256" y2="1387.25" stroke="#231f20" stroke-width="1.7" />
<line x1="1329" y1="1372.75" x2="1329" y2="1387.25" stroke="#231f20" stroke-width="1.7" />
<line x1="1372" y1="1372.75" x2="1372" y2="1387.25" stroke="#231f20" stroke-width="1.7" />
<line x1="1416.25" y1="1372.75" x2="1416.25" y2="1387.25" stroke="#231f20" stroke-width="1.7" />
<line x1="1459" y1="1372.75" x2="1459" y2="1387.25" stroke="#231f20" stroke-width="1.7" />
<line x1="1532" y1="1372.75" x2="1532" y2="1387.25" stroke="#231f20" stroke-width="1.7" />
<line x1="1120" y1="1289.5" x2="1167.75" y2="1289.5" stroke="#231f20" stroke-width="1.3" />
<text x="1145.88" y="1295.1" font-size="29" font-weight="bold" font-style="normal" text-anchor="middle" fill="#231f20" >*</text>
<text transform="translate(960 1169.3) rotate(-90)" font-size="30.7" font-weight="bold" text-anchor="middle" fill="#231f20">relative expression</text>
<text transform="translate(996.25 1168.1) rotate(-90)" font-size="30.7" font-weight="bold" text-anchor="middle" fill="#231f20">normalized to <tspan font-style="italic">GUSB</tspan></text>
<text transform="translate(1171.4 1025.4) rotate(-45)" font-size="33.6" fill="#231f20">control<tspan font-size="20" dy="-11" dx="0.5">32U</tspan></text>
<text transform="translate(1372.65 1025.4) rotate(-45)" font-size="33.6" fill="#231f20">control<tspan font-size="20" dy="-11" dx="0.5">13U</tspan></text>
<text transform="translate(1540.2 998.25) rotate(-45)" font-size="34.3" fill="#231f20">FSHD2</text>
<g transform="translate(1140.1 1413.45) rotate(-45)">
<text transform="scale(1.002 1)" font-size="27.3" font-weight="bold" text-anchor="end" fill="#231f20" stroke="#231f20" stroke-width="0.35" stroke-linejoin="round">WT</text>
</g>
<g transform="translate(1167.75 1426.95) rotate(-45)">
<text transform="scale(0.961 1)" font-size="27.3" font-weight="bold" text-anchor="end" fill="#231f20" stroke="#231f20" stroke-width="0.35" stroke-linejoin="round">SMCHD1</text>
<text transform="translate(2.2 -10.2) scale(0.92 1)" font-size="14.4" stroke="#231f20" stroke-width="0.8" stroke-linejoin="round" fill="#231f20">KO</text>
</g>
<g transform="translate(1211.65 1426.45) rotate(-45)">
<text transform="scale(0.869 1)" font-size="27.3" font-weight="bold" text-anchor="end" fill="#231f20" stroke="#231f20" stroke-width="0.35" stroke-linejoin="round">LRIF1L</text>
<text transform="translate(0.8999999999999999 -10.2) scale(0.92 1)" font-size="14.4" stroke="#231f20" stroke-width="0.8" stroke-linejoin="round" fill="#231f20">KO</text>
</g>
<g transform="translate(1255.85 1425.95) rotate(-45)">
<text transform="scale(0.876 1)" font-size="27.3" font-weight="bold" text-anchor="end" fill="#231f20" stroke="#231f20" stroke-width="0.35" stroke-linejoin="round">LRIF1L+S</text>
<text transform="translate(0.6000000000000001 -9.5) scale(0.92 1)" font-size="14.4" stroke="#231f20" stroke-width="0.8" stroke-linejoin="round" fill="#231f20">KO</text>
</g>
<g transform="translate(1345.15 1413.95) rotate(-45)">
<text transform="scale(1.002 1)" font-size="27.3" font-weight="bold" text-anchor="end" fill="#231f20" stroke="#231f20" stroke-width="0.35" stroke-linejoin="round">WT</text>
</g>
<g transform="translate(1368.15 1426.75) rotate(-45)">
<text transform="scale(0.961 1)" font-size="27.3" font-weight="bold" text-anchor="end" fill="#231f20" stroke="#231f20" stroke-width="0.35" stroke-linejoin="round">SMCHD1</text>
<text transform="translate(2.2 -10.2) scale(0.92 1)" font-size="14.4" stroke="#231f20" stroke-width="0.8" stroke-linejoin="round" fill="#231f20">KO</text>
</g>
<g transform="translate(1415.15 1425.45) rotate(-45)">
<text transform="scale(0.869 1)" font-size="27.3" font-weight="bold" text-anchor="end" fill="#231f20" stroke="#231f20" stroke-width="0.35" stroke-linejoin="round">LRIF1L</text>
<text transform="translate(0.8999999999999999 -10.2) scale(0.92 1)" font-size="14.4" stroke="#231f20" stroke-width="0.8" stroke-linejoin="round" fill="#231f20">KO</text>
</g>
<g transform="translate(1459.8 1426.95) rotate(-45)">
<text transform="scale(0.876 1)" font-size="27.3" font-weight="bold" text-anchor="end" fill="#231f20" stroke="#231f20" stroke-width="0.35" stroke-linejoin="round">LRIF1L+S</text>
<text transform="translate(0.6000000000000001 -9.5) scale(0.92 1)" font-size="14.4" stroke="#231f20" stroke-width="0.8" stroke-linejoin="round" fill="#231f20">KO</text>
</g>
<g transform="translate(1529.45 1425.45) rotate(-45)">
<text transform="scale(0.961 1)" font-size="27.3" font-weight="bold" text-anchor="end" fill="#231f20" stroke="#231f20" stroke-width="0.35" stroke-linejoin="round">SMCHD1</text>
<text transform="translate(1 -9.6) scale(0.9 1)" font-size="16" stroke="#231f20" stroke-width="0.5" fill="#231f20">+<tspan font-size="21.5" dy="3" dx="1.6">/</tspan><tspan dy="-4" dx="1.2">-</tspan></text>
</g>
</g>
<g id="chart-ZSCAN4">
<text x="477" y="1638.25" font-size="35.3" font-weight="bold" font-style="italic" text-anchor="start" fill="#231f20" textLength="132.25" lengthAdjust="spacingAndGlyphs">ZSCAN4</text>
<line x1="484" y1="1737.1" x2="484" y2="2131" stroke="#231f20" stroke-width="1.8" stroke-dasharray="7 6.55" stroke-dashoffset="2.8"/>
<line x1="685" y1="1737.1" x2="685" y2="2131" stroke="#231f20" stroke-width="1.8" stroke-dasharray="7 6.55" stroke-dashoffset="2.8"/>
<path d="M507.5,2131 V2066.25 H535.25 V2131" fill="#cfd1d0" stroke="#231f20" stroke-width="1.2"/>
<path d="M550.5,2131 V2104.5 H578.25 V2131" fill="#cfd1d0" stroke="#231f20" stroke-width="1.2"/>
<path d="M593.75,2131 V2089.5 H621.5 V2131" fill="#cfd1d0" stroke="#231f20" stroke-width="1.2"/>
<path d="M637,2131 V2107.25 H664.75 V2131" fill="#cfd1d0" stroke="#231f20" stroke-width="1.2"/>
<path d="M709.25,1919 V1843.5 H737 V1919" fill="#cfd1d0" stroke="#231f20" stroke-width="1.2"/>
<rect x="709.25" y="1949.25" width="27.75" height="181.75" fill="#cfd1d0" />
<line x1="709.25" y1="1949.25" x2="709.25" y2="2131" stroke="#231f20" stroke-width="1.2" />
<line x1="737" y1="1949.25" x2="737" y2="2131" stroke="#231f20" stroke-width="1.2" />
<line x1="520.75" y1="2047.5" x2="520.75" y2="2084.5" stroke="#231f20" stroke-width="1.2" />
<line x1="513.75" y1="2047.5" x2="527.75" y2="2047.5" stroke="#231f20" stroke-width="1.2" />
<line x1="513.75" y1="2084.5" x2="527.75" y2="2084.5" stroke="#231f20" stroke-width="1.2" />
<line x1="607.25" y1="2067.75" x2="607.25" y2="2109.5" stroke="#231f20" stroke-width="1.2" />
<line x1="600.25" y1="2067.75" x2="614.25" y2="2067.75" stroke="#231f20" stroke-width="1.2" />
<line x1="600.25" y1="2109.5" x2="614.25" y2="2109.5" stroke="#231f20" stroke-width="1.2" />
<line x1="650.5" y1="2101.25" x2="650.5" y2="2113" stroke="#231f20" stroke-width="1.2" />
<line x1="643.5" y1="2101.25" x2="657.5" y2="2101.25" stroke="#231f20" stroke-width="1.2" />
<line x1="643.5" y1="2113" x2="657.5" y2="2113" stroke="#231f20" stroke-width="1.2" />
<line x1="722.5" y1="1774.75" x2="722.5" y2="1910.25" stroke="#231f20" stroke-width="1.2" />
<circle cx="310.5" cy="2130" r="6.0" fill="#231f20" stroke="#231f20" stroke-width="0.5"/>
<circle cx="318.5" cy="2127" r="6.0" fill="#231f20" stroke="#231f20" stroke-width="0.5"/>
<circle cx="327.5" cy="2130" r="6.0" fill="#231f20" stroke="#231f20" stroke-width="0.5"/>
<circle cx="353.75" cy="2129.5" r="6.0" fill="#39b54a" stroke="#2a8c3a" stroke-width="0.5"/>
<circle cx="362" cy="2128.5" r="6.0" fill="#39b54a" stroke="#2a8c3a" stroke-width="0.5"/>
<circle cx="371" cy="2129" r="6.0" fill="#39b54a" stroke="#2a8c3a" stroke-width="0.5"/>
<circle cx="397" cy="2129.5" r="6.0" fill="#ed1f5f" stroke="#b8174a" stroke-width="0.5"/>
<circle cx="405.5" cy="2128.5" r="6.0" fill="#ed1f5f" stroke="#b8174a" stroke-width="0.5"/>
<circle cx="414.5" cy="2129" r="6.0" fill="#ed1f5f" stroke="#b8174a" stroke-width="0.5"/>
<circle cx="440.25" cy="2129.5" r="6.0" fill="#00aeef" stroke="#0089bd" stroke-width="0.5"/>
<circle cx="448.75" cy="2127.5" r="6.0" fill="#00aeef" stroke="#0089bd" stroke-width="0.5"/>
<circle cx="457.25" cy="2129" r="6.0" fill="#00aeef" stroke="#0089bd" stroke-width="0.5"/>
<circle cx="520.75" cy="1996.75" r="6.0" fill="#231f20" stroke="#231f20" stroke-width="0.5"/>
<circle cx="520.75" cy="2061.25" r="6.0" fill="#231f20" stroke="#231f20" stroke-width="0.5"/>
<circle cx="512.5" cy="2079.5" r="6.0" fill="#231f20" stroke="#231f20" stroke-width="0.5"/>
<circle cx="529.25" cy="2090.5" r="6.0" fill="#231f20" stroke="#231f20" stroke-width="0.5"/>
<circle cx="512.5" cy="2100" r="6.0" fill="#231f20" stroke="#231f20" stroke-width="0.5"/>
<circle cx="555.75" cy="2092.5" r="6.0" fill="#39b54a" stroke="#2a8c3a" stroke-width="0.5"/>
<circle cx="561.25" cy="2104.25" r="6.0" fill="#39b54a" stroke="#2a8c3a" stroke-width="0.5"/>
<circle cx="567.5" cy="2105.5" r="6.0" fill="#39b54a" stroke="#2a8c3a" stroke-width="0.5"/>
<circle cx="573" cy="2104.5" r="6.0" fill="#39b54a" stroke="#2a8c3a" stroke-width="0.5"/>
<circle cx="555.75" cy="2112" r="6.0" fill="#39b54a" stroke="#2a8c3a" stroke-width="0.5"/>
<circle cx="607.25" cy="2009.5" r="6.0" fill="#ed1f5f" stroke="#b8174a" stroke-width="0.5"/>
<circle cx="598.75" cy="2095.5" r="6.0" fill="#ed1f5f" stroke="#b8174a" stroke-width="0.5"/>
<circle cx="615.75" cy="2095.5" r="6.0" fill="#ed1f5f" stroke="#b8174a" stroke-width="0.5"/>
<circle cx="607.25" cy="2115.5" r="6.0" fill="#ed1f5f" stroke="#b8174a" stroke-width="0.5"/>
<circle cx="607.25" cy="2128" r="6.0" fill="#ed1f5f" stroke="#b8174a" stroke-width="0.5"/>
<circle cx="650.5" cy="2092" r="6.0" fill="#231f20" stroke="#231f20" stroke-width="0.5"/>
<circle cx="642" cy="2098.75" r="6.0" fill="#231f20" stroke="#231f20" stroke-width="0.5"/>
<circle cx="658.75" cy="2106.5" r="6.0" fill="#231f20" stroke="#231f20" stroke-width="0.5"/>
<circle cx="650.5" cy="2108.75" r="6.0" fill="#231f20" stroke="#231f20" stroke-width="0.5"/>
<circle cx="650.5" cy="2128.75" r="6.0" fill="#231f20" stroke="#231f20" stroke-width="0.5"/>
<circle cx="722.5" cy="1774.75" r="6.0" fill="#662d91" stroke="#4d2170" stroke-width="0.5"/>
<circle cx="722.5" cy="1910.25" r="6.0" fill="#662d91" stroke="#4d2170" stroke-width="0.5"/>
<line x1="290" y1="1735.9" x2="290" y2="1919.25" stroke="#231f20" stroke-width="1.7" />
<line x1="290" y1="1948.75" x2="290" y2="2134" stroke="#231f20" stroke-width="1.7" />
<line x1="280.5" y1="1919.25" x2="299.5" y2="1919.25" stroke="#231f20" stroke-width="1.7" />
<line x1="280.5" y1="1948.75" x2="299.5" y2="1948.75" stroke="#231f20" stroke-width="1.7" />
<line x1="273.5" y1="2132" x2="765.5" y2="2132" stroke="#231f20" stroke-width="1.7" />
<line x1="273.5" y1="1736.75" x2="290" y2="1736.75" stroke="#231f20" stroke-width="1.7" />
<text x="269" y="1747.85" font-size="29.5" font-weight="bold" font-style="normal" text-anchor="end" fill="#231f20" >20</text>
<line x1="273.5" y1="1785.25" x2="290" y2="1785.25" stroke="#231f20" stroke-width="1.7" />
<text x="269" y="1796.35" font-size="29.5" font-weight="bold" font-style="normal" text-anchor="end" fill="#231f20" >15</text>
<line x1="273.5" y1="1833.25" x2="290" y2="1833.25" stroke="#231f20" stroke-width="1.7" />
<text x="269" y="1844.35" font-size="29.5" font-weight="bold" font-style="normal" text-anchor="end" fill="#231f20" >10</text>
<line x1="273.5" y1="1880.75" x2="290" y2="1880.75" stroke="#231f20" stroke-width="1.7" />
<text x="269" y="1891.85" font-size="29.5" font-weight="bold" font-style="normal" text-anchor="end" fill="#231f20" >5</text>
<text x="269" y="1959.85" font-size="29.5" font-weight="bold" font-style="normal" text-anchor="end" fill="#231f20" >0.5</text>
<line x1="273.5" y1="1985.25" x2="290" y2="1985.25" stroke="#231f20" stroke-width="1.7" />
<text x="269" y="1996.35" font-size="29.5" font-weight="bold" font-style="normal" text-anchor="end" fill="#231f20" >0.4</text>
<line x1="273.5" y1="2021.75" x2="290" y2="2021.75" stroke="#231f20" stroke-width="1.7" />
<text x="269" y="2032.85" font-size="29.5" font-weight="bold" font-style="normal" text-anchor="end" fill="#231f20" >0.3</text>
<line x1="273.5" y1="2058" x2="290" y2="2058" stroke="#231f20" stroke-width="1.7" />
<text x="269" y="2069.1" font-size="29.5" font-weight="bold" font-style="normal" text-anchor="end" fill="#231f20" >0.2</text>
<line x1="273.5" y1="2094.5" x2="290" y2="2094.5" stroke="#231f20" stroke-width="1.7" />
<text x="265.9" y="2105.6" font-size="29.5" font-weight="bold" font-style="normal" text-anchor="end" fill="#231f20" >0.1</text>
<text x="269" y="2142.1" font-size="29.5" font-weight="bold" font-style="normal" text-anchor="end" fill="#231f20" >0.0</text>
<line x1="317.5" y1="2131" x2="317.5" y2="2145.5" stroke="#231f20" stroke-width="1.7" />
<line x1="361.25" y1="2131" x2="361.25" y2="2145.5" stroke="#231f20" stroke-width="1.7" />
<line x1="405" y1="2131" x2="405" y2="2145.5" stroke="#231f20" stroke-width="1.7" />
<line x1="447.5" y1="2131" x2="447.5" y2="2145.5" stroke="#231f20" stroke-width="1.7" />
<line x1="520" y1="2131" x2="520" y2="2145.5" stroke="#231f20" stroke-width="1.7" />
<line x1="563.75" y1="2131" x2="563.75" y2="2145.5" stroke="#231f20" stroke-width="1.7" />
<line x1="607.75" y1="2131" x2="607.75" y2="2145.5" stroke="#231f20" stroke-width="1.7" />
<line x1="650.75" y1="2131" x2="650.75" y2="2145.5" stroke="#231f20" stroke-width="1.7" />
<line x1="723" y1="2131" x2="723" y2="2145.5" stroke="#231f20" stroke-width="1.7" />
<text transform="translate(134.5 1938.5) rotate(-90)" font-size="30.7" font-weight="bold" text-anchor="middle" fill="#231f20">relative expression</text>
<text transform="translate(171.25 1937.3) rotate(-90)" font-size="30.7" font-weight="bold" text-anchor="middle" fill="#231f20">normalized to <tspan font-style="italic">GUSB</tspan></text>
<text transform="translate(362.15 1784.9) rotate(-45)" font-size="33.6" fill="#231f20">control<tspan font-size="20" dy="-11" dx="0.5">32U</tspan></text>
<text transform="translate(563.4 1784.9) rotate(-45)" font-size="33.6" fill="#231f20">control<tspan font-size="20" dy="-11" dx="0.5">13U</tspan></text>
<text transform="translate(730.7 1757.5) rotate(-45)" font-size="34.3" fill="#231f20">FSHD2</text>
<g transform="translate(329.2 2170.45) rotate(-45)">
<text transform="scale(1.002 1)" font-size="27.3" font-weight="bold" text-anchor="end" fill="#231f20" stroke="#231f20" stroke-width="0.35" stroke-linejoin="round">WT</text>
</g>
<g transform="translate(355.25 2183.65) rotate(-45)">
<text transform="scale(0.961 1)" font-size="27.3" font-weight="bold" text-anchor="end" fill="#231f20" stroke="#231f20" stroke-width="0.35" stroke-linejoin="round">SMCHD1</text>
<text transform="translate(2.0 -10.2) scale(0.92 1)" font-size="14.4" stroke="#231f20" stroke-width="0.8" stroke-linejoin="round" fill="#231f20">KO</text>
</g>
<g transform="translate(398.95 2182.85) rotate(-45)">
<text transform="scale(0.869 1)" font-size="27.3" font-weight="bold" text-anchor="end" fill="#231f20" stroke="#231f20" stroke-width="0.35" stroke-linejoin="round">LRIF1L</text>
<text transform="translate(0.7 -10.2) scale(0.92 1)" font-size="14.4" stroke="#231f20" stroke-width="0.8" stroke-linejoin="round" fill="#231f20">KO</text>
</g>
<g transform="translate(445.15 2183.25) rotate(-45)">
<text transform="scale(0.876 1)" font-size="27.3" font-weight="bold" text-anchor="end" fill="#231f20" stroke="#231f20" stroke-width="0.35" stroke-linejoin="round">LRIF1L+S</text>
<text transform="translate(0.40000000000000013 -9.5) scale(0.92 1)" font-size="14.4" stroke="#231f20" stroke-width="0.8" stroke-linejoin="round" fill="#231f20">KO</text>
</g>
<g transform="translate(532.45 2170.75) rotate(-45)">
<text transform="scale(1.002 1)" font-size="27.3" font-weight="bold" text-anchor="end" fill="#231f20" stroke="#231f20" stroke-width="0.35" stroke-linejoin="round">WT</text>
</g>
<g transform="translate(555.45 2184.05) rotate(-45)">
<text transform="scale(0.961 1)" font-size="27.3" font-weight="bold" text-anchor="end" fill="#231f20" stroke="#231f20" stroke-width="0.35" stroke-linejoin="round">SMCHD1</text>
<text transform="translate(2.0 -10.2) scale(0.92 1)" font-size="14.4" stroke="#231f20" stroke-width="0.8" stroke-linejoin="round" fill="#231f20">KO</text>
</g>
<g transform="translate(601.45 2182.75) rotate(-45)">
<text transform="scale(0.869 1)" font-size="27.3" font-weight="bold" text-anchor="end" fill="#231f20" stroke="#231f20" stroke-width="0.35" stroke-linejoin="round">LRIF1L</text>
<text transform="translate(0.7 -10.2) scale(0.92 1)" font-size="14.4" stroke="#231f20" stroke-width="0.8" stroke-linejoin="round" fill="#231f20">KO</text>
</g>
<g transform="translate(648.9 2182.25) rotate(-45)">
<text transform="scale(0.876 1)" font-size="27.3" font-weight="bold" text-anchor="end" fill="#231f20" stroke="#231f20" stroke-width="0.35" stroke-linejoin="round">LRIF1L+S</text>
<text transform="translate(0.40000000000000013 -9.5) scale(0.92 1)" font-size="14.4" stroke="#231f20" stroke-width="0.8" stroke-linejoin="round" fill="#231f20">KO</text>
</g>
<g transform="translate(715.75 2183.75) rotate(-45)">
<text transform="scale(0.961 1)" font-size="27.3" font-weight="bold" text-anchor="end" fill="#231f20" stroke="#231f20" stroke-width="0.35" stroke-linejoin="round">SMCHD1</text>
<text transform="translate(1 -9.6) scale(0.9 1)" font-size="16" stroke="#231f20" stroke-width="0.5" fill="#231f20">+<tspan font-size="21.5" dy="3" dx="1.6">/</tspan><tspan dy="-4" dx="1.2">-</tspan></text>
</g>
</g>
<g id="chart-KHDC1L">
<text x="1276.5" y="1638" font-size="35.3" font-weight="bold" font-style="italic" text-anchor="start" fill="#231f20" textLength="131" lengthAdjust="spacingAndGlyphs">KHDC1L</text>
<line x1="1292" y1="1747.6" x2="1292" y2="2140.7" stroke="#231f20" stroke-width="1.8" stroke-dasharray="7 6.55" stroke-dashoffset="2.8"/>
<line x1="1493.25" y1="1747.6" x2="1493.25" y2="2140.7" stroke="#231f20" stroke-width="1.8" stroke-dasharray="7 6.55" stroke-dashoffset="2.8"/>
<path d="M1112,2140.7 V2133.5 H1140 V2140.7" fill="#cfd1d0" stroke="#231f20" stroke-width="1.2"/>
<path d="M1156,2140.7 V2130 H1184 V2140.7" fill="#cfd1d0" stroke="#231f20" stroke-width="1.2"/>
<path d="M1199.5,2140.7 V2135.5 H1227.5 V2140.7" fill="#cfd1d0" stroke="#231f20" stroke-width="1.2"/>
<path d="M1242.5,2140.7 V2132.5 H1270.5 V2140.7" fill="#cfd1d0" stroke="#231f20" stroke-width="1.2"/>
<path d="M1315.5,2140.7 V2127 H1343.5 V2140.7" fill="#cfd1d0" stroke="#231f20" stroke-width="1.2"/>
<path d="M1359.25,2140.7 V2115.25 H1386.75 V2140.7" fill="#cfd1d0" stroke="#231f20" stroke-width="1.2"/>
<path d="M1402.25,2140.7 V2099.5 H1430 V2140.7" fill="#cfd1d0" stroke="#231f20" stroke-width="1.2"/>
<path d="M1445.5,2140.7 V2119.25 H1473.25 V2140.7" fill="#cfd1d0" stroke="#231f20" stroke-width="1.2"/>
<path d="M1518.25,1927.5 V1842.25 H1545.6 V1927.5" fill="#cfd1d0" stroke="#231f20" stroke-width="1.2"/>
<rect x="1518.25" y="1957.25" width="27.35" height="183.45" fill="#cfd1d0" />
<line x1="1518.25" y1="1957.25" x2="1518.25" y2="2140.7" stroke="#231f20" stroke-width="1.2" />
<line x1="1545.6" y1="1957.25" x2="1545.6" y2="2140.7" stroke="#231f20" stroke-width="1.2" />
<line x1="1372.25" y1="2107.5" x2="1372.25" y2="2123" stroke="#231f20" stroke-width="1.2" />
<line x1="1365.25" y1="2107.5" x2="1379.25" y2="2107.5" stroke="#231f20" stroke-width="1.2" />
<line x1="1415.75" y1="2071.75" x2="1415.75" y2="2126.25" stroke="#231f20" stroke-width="1.2" />
<line x1="1408.75" y1="2071.75" x2="1422.75" y2="2071.75" stroke="#231f20" stroke-width="1.2" />
<line x1="1408.75" y1="2126.25" x2="1422.75" y2="2126.25" stroke="#231f20" stroke-width="1.2" />
<line x1="1459.25" y1="2111.75" x2="1459.25" y2="2126" stroke="#231f20" stroke-width="1.2" />
<line x1="1452.25" y1="2111.75" x2="1466.25" y2="2111.75" stroke="#231f20" stroke-width="1.2" />
<line x1="1531.75" y1="1766" x2="1531.75" y2="1916.75" stroke="#231f20" stroke-width="1.2" />
<circle cx="1118" cy="2135.25" r="6.0" fill="#231f20" stroke="#231f20" stroke-width="0.5"/>
<circle cx="1126.25" cy="2130" r="6.0" fill="#231f20" stroke="#231f20" stroke-width="0.5"/>
<circle cx="1135" cy="2135" r="6.0" fill="#231f20" stroke="#231f20" stroke-width="0.5"/>
<circle cx="1161.25" cy="2132.5" r="6.0" fill="#39b54a" stroke="#2a8c3a" stroke-width="0.5"/>
<circle cx="1170" cy="2127.5" r="6.0" fill="#39b54a" stroke="#2a8c3a" stroke-width="0.5"/>
<circle cx="1178.25" cy="2128.75" r="6.0" fill="#39b54a" stroke="#2a8c3a" stroke-width="0.5"/>
<circle cx="1205" cy="2135.5" r="6.0" fill="#ed1f5f" stroke="#b8174a" stroke-width="0.5"/>
<circle cx="1213.25" cy="2133.75" r="6.0" fill="#ed1f5f" stroke="#b8174a" stroke-width="0.5"/>
<circle cx="1221.75" cy="2133.75" r="6.0" fill="#ed1f5f" stroke="#b8174a" stroke-width="0.5"/>
<circle cx="1248.25" cy="2133.75" r="6.0" fill="#00aeef" stroke="#0089bd" stroke-width="0.5"/>
<circle cx="1256.75" cy="2128.25" r="6.0" fill="#00aeef" stroke="#0089bd" stroke-width="0.5"/>
<circle cx="1265" cy="2133" r="6.0" fill="#00aeef" stroke="#0089bd" stroke-width="0.5"/>
<circle cx="1328.75" cy="2119.5" r="6.0" fill="#231f20" stroke="#231f20" stroke-width="0.5"/>
<circle cx="1324.5" cy="2125" r="6.0" fill="#231f20" stroke="#231f20" stroke-width="0.5"/>
<circle cx="1333.75" cy="2123" r="6.0" fill="#231f20" stroke="#231f20" stroke-width="0.5"/>
<circle cx="1337.5" cy="2125" r="6.0" fill="#231f20" stroke="#231f20" stroke-width="0.5"/>
<circle cx="1321.25" cy="2131.25" r="6.0" fill="#231f20" stroke="#231f20" stroke-width="0.5"/>
<circle cx="1331.25" cy="2131" r="6.0" fill="#231f20" stroke="#231f20" stroke-width="0.5"/>
<circle cx="1372.25" cy="2092.5" r="6.0" fill="#39b54a" stroke="#2a8c3a" stroke-width="0.5"/>
<circle cx="1372.25" cy="2105" r="6.0" fill="#39b54a" stroke="#2a8c3a" stroke-width="0.5"/>
<circle cx="1372.25" cy="2119.25" r="6.0" fill="#39b54a" stroke="#2a8c3a" stroke-width="0.5"/>
<circle cx="1380.75" cy="2126.25" r="6.0" fill="#39b54a" stroke="#2a8c3a" stroke-width="0.5"/>
<circle cx="1364.25" cy="2130.5" r="6.0" fill="#39b54a" stroke="#2a8c3a" stroke-width="0.5"/>
<circle cx="1415.75" cy="1992.5" r="6.0" fill="#ed1f5f" stroke="#b8174a" stroke-width="0.5"/>
<circle cx="1415.75" cy="2103.75" r="6.0" fill="#ed1f5f" stroke="#b8174a" stroke-width="0.5"/>
<circle cx="1407.5" cy="2133.75" r="6.0" fill="#ed1f5f" stroke="#b8174a" stroke-width="0.5"/>
<circle cx="1416.25" cy="2131.25" r="6.0" fill="#ed1f5f" stroke="#b8174a" stroke-width="0.5"/>
<circle cx="1424.5" cy="2133.75" r="6.0" fill="#ed1f5f" stroke="#b8174a" stroke-width="0.5"/>
<circle cx="1455" cy="2100.5" r="6.0" fill="#00aeef" stroke="#0089bd" stroke-width="0.5"/>
<circle cx="1463" cy="2106.25" r="6.0" fill="#00aeef" stroke="#0089bd" stroke-width="0.5"/>
<circle cx="1459.25" cy="2121.25" r="6.0" fill="#00aeef" stroke="#0089bd" stroke-width="0.5"/>
<circle cx="1451" cy="2132" r="6.0" fill="#00aeef" stroke="#0089bd" stroke-width="0.5"/>
<circle cx="1467.5" cy="2132" r="6.0" fill="#00aeef" stroke="#0089bd" stroke-width="0.5"/>
<circle cx="1531.75" cy="1766" r="6.0" fill="#662d91" stroke="#4d2170" stroke-width="0.5"/>
<circle cx="1531.75" cy="1916.75" r="6.0" fill="#662d91" stroke="#4d2170" stroke-width="0.5"/>
<line x1="1098" y1="1743.4" x2="1098" y2="1927.5" stroke="#231f20" stroke-width="1.7" />
<line x1="1098" y1="1957.25" x2="1098" y2="2143" stroke="#231f20" stroke-width="1.7" />
<line x1="1088.5" y1="1927.5" x2="1107.5" y2="1927.5" stroke="#231f20" stroke-width="1.7" />
<line x1="1088.5" y1="1957.25" x2="1107.5" y2="1957.25" stroke="#231f20" stroke-width="1.7" />
<line x1="1081.5" y1="2141" x2="1573.75" y2="2141" stroke="#231f20" stroke-width="1.7" />
<line x1="1081.5" y1="1744.25" x2="1098" y2="1744.25" stroke="#231f20" stroke-width="1.7" />
<text x="1077" y="1755.35" font-size="29.5" font-weight="bold" font-style="normal" text-anchor="end" fill="#231f20" >40</text>
<line x1="1081.5" y1="1791.75" x2="1098" y2="1791.75" stroke="#231f20" stroke-width="1.7" />
<text x="1077" y="1802.85" font-size="29.5" font-weight="bold" font-style="normal" text-anchor="end" fill="#231f20" >30</text>
<line x1="1081.5" y1="1838.5" x2="1098" y2="1838.5" stroke="#231f20" stroke-width="1.7" />
<text x="1077" y="1849.6" font-size="29.5" font-weight="bold" font-style="normal" text-anchor="end" fill="#231f20" >20</text>
<line x1="1081.5" y1="1885.25" x2="1098" y2="1885.25" stroke="#231f20" stroke-width="1.7" />
<text x="1077" y="1896.35" font-size="29.5" font-weight="bold" font-style="normal" text-anchor="end" fill="#231f20" >10</text>
<text x="1073.9" y="1938.6" font-size="29.5" font-weight="bold" font-style="normal" text-anchor="end" fill="#231f20" >1</text>
<text x="1077" y="1968.35" font-size="29.5" font-weight="bold" font-style="normal" text-anchor="end" fill="#231f20" >0.05</text>
<line x1="1081.5" y1="1993.75" x2="1098" y2="1993.75" stroke="#231f20" stroke-width="1.7" />
<text x="1077" y="2004.85" font-size="29.5" font-weight="bold" font-style="normal" text-anchor="end" fill="#231f20" >0.04</text>
<line x1="1081.5" y1="2030.25" x2="1098" y2="2030.25" stroke="#231f20" stroke-width="1.7" />
<text x="1077" y="2041.35" font-size="29.5" font-weight="bold" font-style="normal" text-anchor="end" fill="#231f20" >0.03</text>
<line x1="1081.5" y1="2066.75" x2="1098" y2="2066.75" stroke="#231f20" stroke-width="1.7" />
<text x="1077" y="2077.85" font-size="29.5" font-weight="bold" font-style="normal" text-anchor="end" fill="#231f20" >0.02</text>
<line x1="1081.5" y1="2103.5" x2="1098" y2="2103.5" stroke="#231f20" stroke-width="1.7" />
<text x="1073.9" y="2114.6" font-size="29.5" font-weight="bold" font-style="normal" text-anchor="end" fill="#231f20" >0.01</text>
<text x="1077" y="2151.8" font-size="29.5" font-weight="bold" font-style="normal" text-anchor="end" fill="#231f20" >0.00</text>
<line x1="1126" y1="2140.7" x2="1126" y2="2155.2" stroke="#231f20" stroke-width="1.7" />
<line x1="1169.5" y1="2140.7" x2="1169.5" y2="2155.2" stroke="#231f20" stroke-width="1.7" />
<line x1="1213.75" y1="2140.7" x2="1213.75" y2="2155.2" stroke="#231f20" stroke-width="1.7" />
<line x1="1256" y1="2140.7" x2="1256" y2="2155.2" stroke="#231f20" stroke-width="1.7" />
<line x1="1328.25" y1="2140.7" x2="1328.25" y2="2155.2" stroke="#231f20" stroke-width="1.7" />
<line x1="1371.75" y1="2140.7" x2="1371.75" y2="2155.2" stroke="#231f20" stroke-width="1.7" />
<line x1="1416" y1="2140.7" x2="1416" y2="2155.2" stroke="#231f20" stroke-width="1.7" />
<line x1="1458.75" y1="2140.7" x2="1458.75" y2="2155.2" stroke="#231f20" stroke-width="1.7" />
<line x1="1531.75" y1="2140.7" x2="1531.75" y2="2155.2" stroke="#231f20" stroke-width="1.7" />
<text transform="translate(960 1946) rotate(-90)" font-size="30.7" font-weight="bold" text-anchor="middle" fill="#231f20">relative expression</text>
<text transform="translate(996.25 1944.8) rotate(-90)" font-size="30.7" font-weight="bold" text-anchor="middle" fill="#231f20">normalized to <tspan font-style="italic">GUSB</tspan></text>
<text transform="translate(1170.65 1794.9) rotate(-45)" font-size="33.6" fill="#231f20">control<tspan font-size="20" dy="-11" dx="0.5">32U</tspan></text>
<text transform="translate(1371.9 1794.9) rotate(-45)" font-size="33.6" fill="#231f20">control<tspan font-size="20" dy="-11" dx="0.5">13U</tspan></text>
<text transform="translate(1538.95 1767.5) rotate(-45)" font-size="34.3" fill="#231f20">FSHD2</text>
<g transform="translate(1135.6 2178.75) rotate(-45)">
<text transform="scale(1.002 1)" font-size="27.3" font-weight="bold" text-anchor="end" fill="#231f20" stroke="#231f20" stroke-width="0.35" stroke-linejoin="round">WT</text>
</g>
<g transform="translate(1162.55 2192.15) rotate(-45)">
<text transform="scale(0.961 1)" font-size="27.3" font-weight="bold" text-anchor="end" fill="#231f20" stroke="#231f20" stroke-width="0.35" stroke-linejoin="round">SMCHD1</text>
<text transform="translate(2.0 -10.2) scale(0.92 1)" font-size="14.4" stroke="#231f20" stroke-width="0.8" stroke-linejoin="round" fill="#231f20">KO</text>
</g>
<g transform="translate(1206.25 2190.75) rotate(-45)">
<text transform="scale(0.869 1)" font-size="27.3" font-weight="bold" text-anchor="end" fill="#231f20" stroke="#231f20" stroke-width="0.35" stroke-linejoin="round">LRIF1L</text>
<text transform="translate(0.7 -10.2) scale(0.92 1)" font-size="14.4" stroke="#231f20" stroke-width="0.8" stroke-linejoin="round" fill="#231f20">KO</text>
</g>
<g transform="translate(1253.35 2190.95) rotate(-45)">
<text transform="scale(0.876 1)" font-size="27.3" font-weight="bold" text-anchor="end" fill="#231f20" stroke="#231f20" stroke-width="0.35" stroke-linejoin="round">LRIF1L+S</text>
<text transform="translate(0.40000000000000013 -9.5) scale(0.92 1)" font-size="14.4" stroke="#231f20" stroke-width="0.8" stroke-linejoin="round" fill="#231f20">KO</text>
</g>
<g transform="translate(1340.15 2179.45) rotate(-45)">
<text transform="scale(1.002 1)" font-size="27.3" font-weight="bold" text-anchor="end" fill="#231f20" stroke="#231f20" stroke-width="0.35" stroke-linejoin="round">WT</text>
</g>
<g transform="translate(1362.15 2192.25) rotate(-45)">
<text transform="scale(0.961 1)" font-size="27.3" font-weight="bold" text-anchor="end" fill="#231f20" stroke="#231f20" stroke-width="0.35" stroke-linejoin="round">SMCHD1</text>
<text transform="translate(2.0 -10.2) scale(0.92 1)" font-size="14.4" stroke="#231f20" stroke-width="0.8" stroke-linejoin="round" fill="#231f20">KO</text>
</g>
<g transform="translate(1408.15 2190.95) rotate(-45)">
<text transform="scale(0.869 1)" font-size="27.3" font-weight="bold" text-anchor="end" fill="#231f20" stroke="#231f20" stroke-width="0.35" stroke-linejoin="round">LRIF1L</text>
<text transform="translate(0.7 -10.2) scale(0.92 1)" font-size="14.4" stroke="#231f20" stroke-width="0.8" stroke-linejoin="round" fill="#231f20">KO</text>
</g>
<g transform="translate(1457.1 2191.95) rotate(-45)">
<text transform="scale(0.876 1)" font-size="27.3" font-weight="bold" text-anchor="end" fill="#231f20" stroke="#231f20" stroke-width="0.35" stroke-linejoin="round">LRIF1L+S</text>
<text transform="translate(0.40000000000000013 -9.5) scale(0.92 1)" font-size="14.4" stroke="#231f20" stroke-width="0.8" stroke-linejoin="round" fill="#231f20">KO</text>
</g>
<g transform="translate(1524.45 2192.45) rotate(-45)">
<text transform="scale(0.961 1)" font-size="27.3" font-weight="bold" text-anchor="end" fill="#231f20" stroke="#231f20" stroke-width="0.35" stroke-linejoin="round">SMCHD1</text>
<text transform="translate(1 -9.6) scale(0.9 1)" font-size="16" stroke="#231f20" stroke-width="0.5" fill="#231f20">+<tspan font-size="21.5" dy="3" dx="1.6">/</tspan><tspan dy="-4" dx="1.2">-</tspan></text>
</g>
</g>
</g>
</svg></body></html>
